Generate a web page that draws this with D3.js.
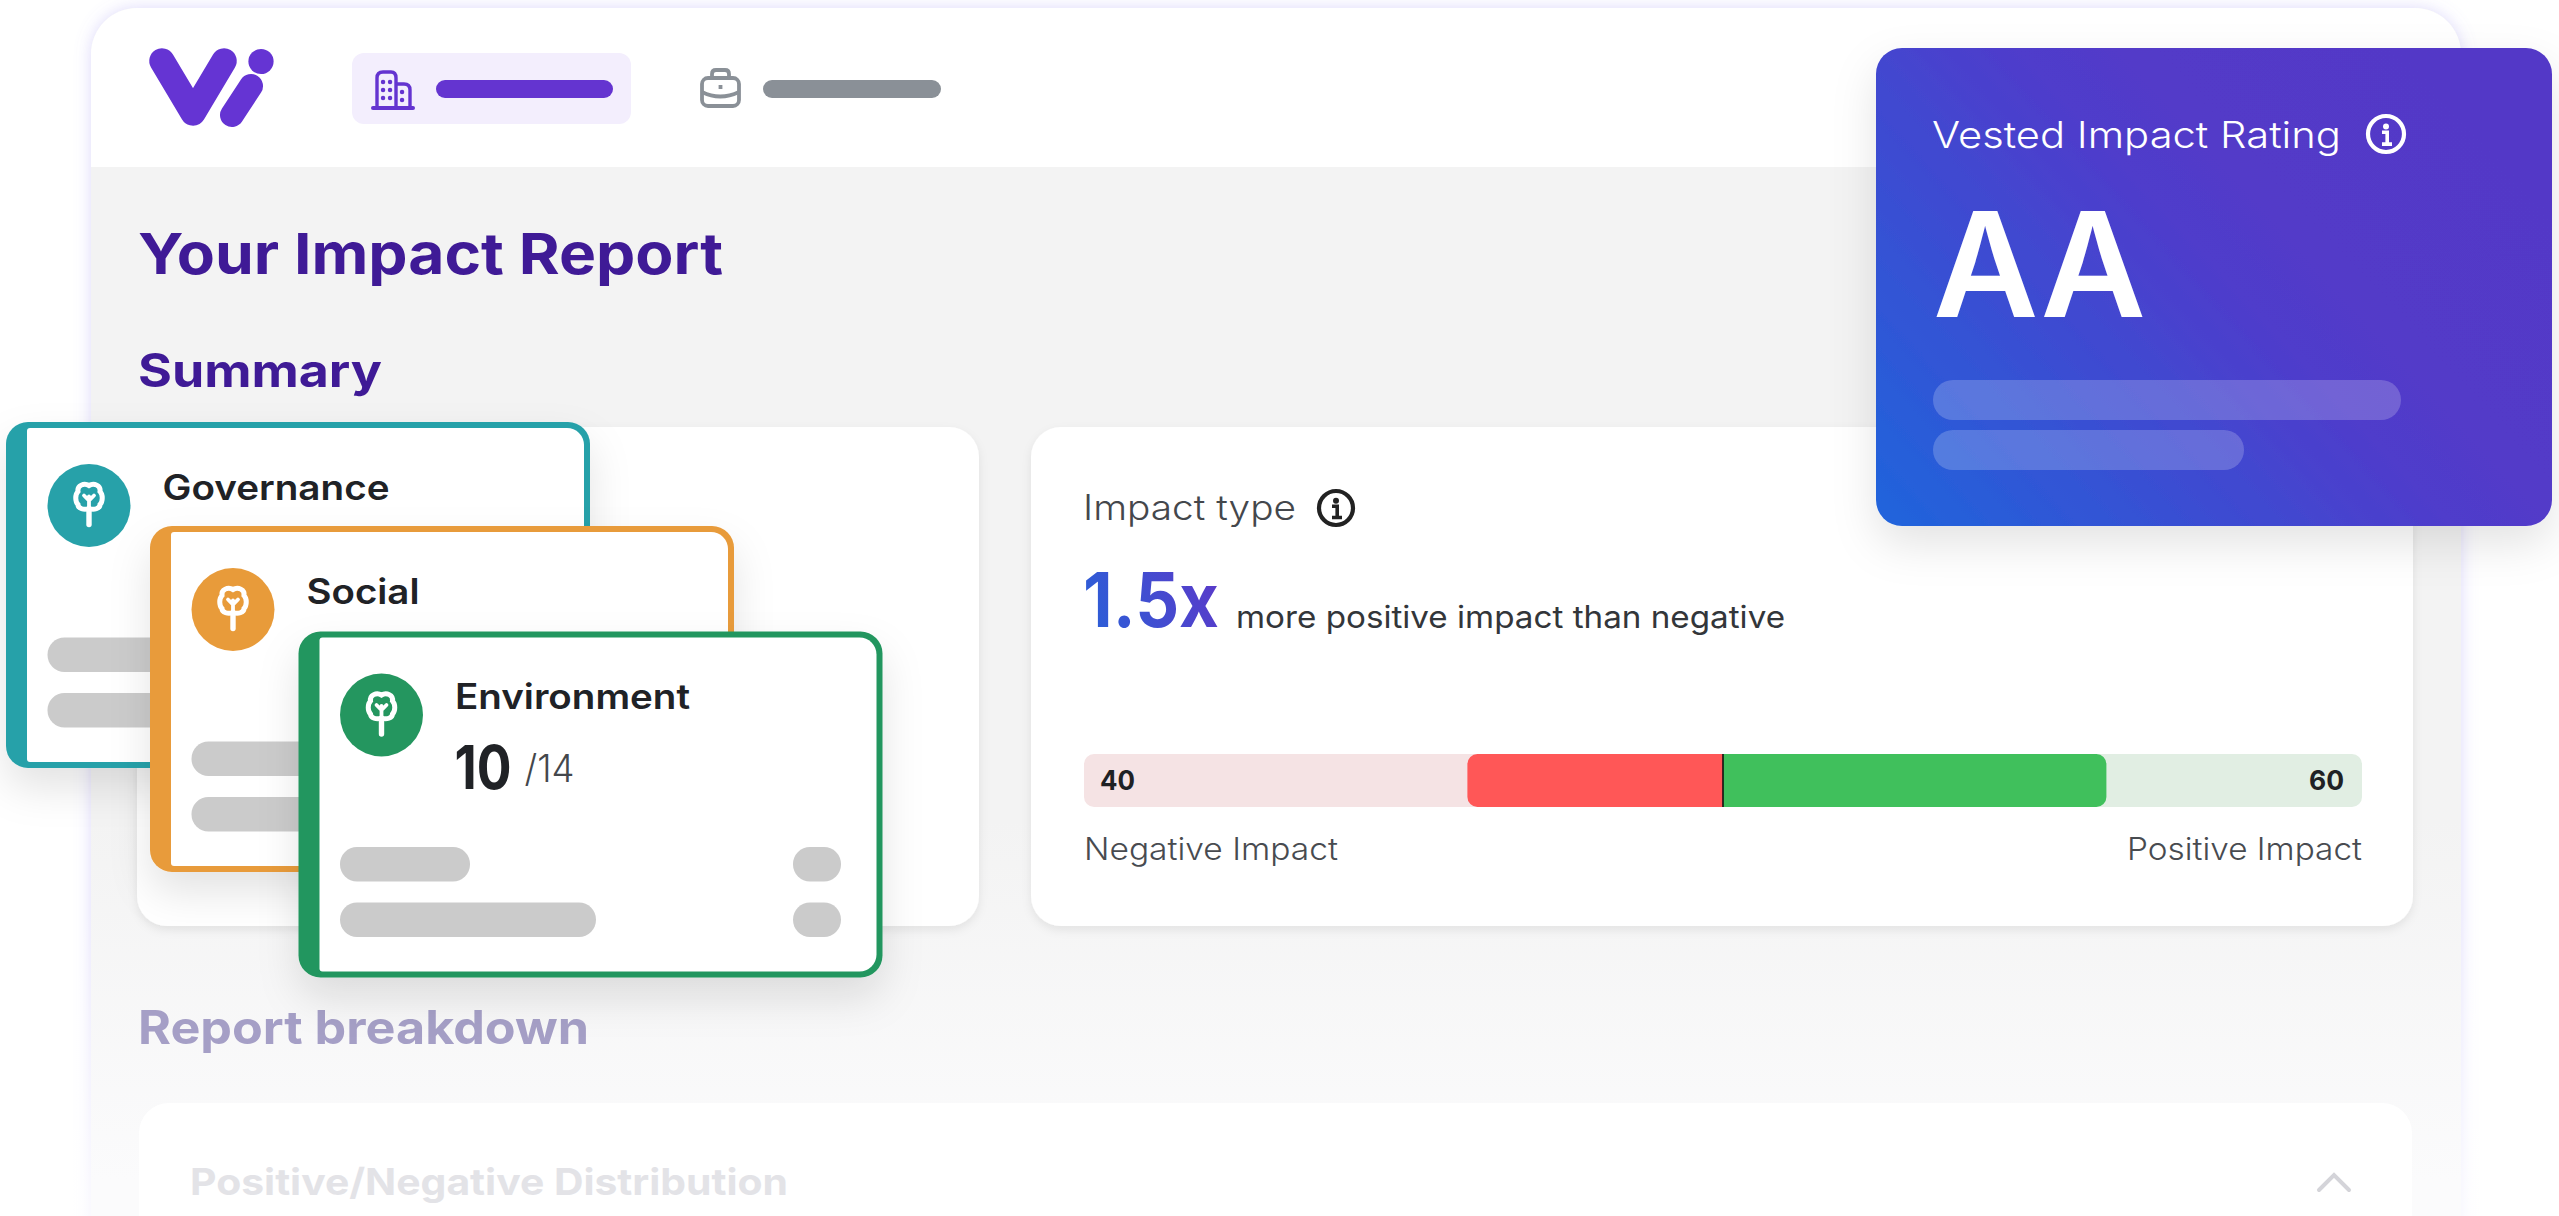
<!DOCTYPE html>
<html>
<head>
<meta charset="utf-8">
<title>Your Impact Report</title>
<script src="https://cdn.jsdelivr.net/npm/d3@7/dist/d3.min.js"></script>
<style>
html,body{margin:0;padding:0;background:#fff;overflow:hidden}
svg{display:block}
text{font-family:Inter,"Open Sans",sans-serif}
</style>
</head>
<body>
<svg id="chart" width="2559" height="1216" viewBox="0 0 2559 1216"></svg>
<script>
// ---- data ----
const cardNames   = ["Governance", "Social", "Environment"];
const cardColors  = ["#27a1a9", "#e89b3a", "#24965f"];
const cardNameWidths = [227, 113, 235];
const envScore    = "10";
const envScoreMax = "/14";
const impactSegments = ["Negative Impact", "Positive Impact"];
const impactValues   = [40, 60];
const impactMultiple = "1.5x";
const impactSentence = "more positive impact than negative";
const ratingTitle = "Vested Impact Rating";
const ratingValue = "AA";
const headings    = ["Your Impact Report", "Summary", "Report breakdown"];
const accordionTitle = "Positive/Negative Distribution";

const svg = d3.select("#chart");
const defs = svg.append("defs");

function rr(x, y, w, h, tl, tr, br, bl) {
  const p = d3.path();
  p.moveTo(x + tl, y);
  p.lineTo(x + w - tr, y);
  p.arcTo(x + w, y, x + w, y + tr, tr);
  p.lineTo(x + w, y + h - br);
  p.arcTo(x + w, y + h, x + w - br, y + h, br);
  p.lineTo(x + bl, y + h);
  p.arcTo(x, y + h, x, y + h - bl, bl);
  p.lineTo(x, y + tl);
  p.arcTo(x, y, x + tl, y, tl);
  p.closePath();
  return p.toString();
}
function shadow(id, dy, blur, color, op) {
  const f = defs.append("filter").attr("id", id)
    .attr("x", "-20%").attr("y", "-20%").attr("width", "140%").attr("height", "150%");
  f.append("feDropShadow").attr("dx", 0).attr("dy", dy).attr("stdDeviation", blur)
    .attr("flood-color", color).attr("flood-opacity", op);
}
shadow("panelShadow", 0, 8, "#8f80f0", 0.3);
shadow("softCard", 4, 5, "#000", 0.08);
shadow("floatCard", 20, 20, "#000", 0.11);
shadow("ratingShadow", 18, 22, "#000", 0.11);

function linGrad(id, x1, y1, x2, y2, stops) {
  const g = defs.append("linearGradient").attr("id", id).attr("gradientUnits", "userSpaceOnUse")
    .attr("x1", x1).attr("y1", y1).attr("x2", x2).attr("y2", y2);
  stops.forEach(s => g.append("stop").attr("offset", s[0]).attr("stop-color", s[1]));
}
linGrad("panelBg", 0, 820, 0, 1180, [[0, "#f3f3f3"], [1, "#fbfbfc"]]);
linGrad("ratingBg", 1876, 526, 2400, 48, [[0, "#1f65dc"], [0.6, "#4f3ccb"], [0.74, "#533ac8"], [1, "#5339c7"]]);
linGrad("multiple", 1084, 627, 1218, 574, [[0, "#2a60d8"], [1, "#5a3ac9"]]);

function label(g, str, x, y, size, weight, fill, width, anchor) {
  const t = g.append("text").attr("x", x).attr("y", y)
    .attr("font-size", size).attr("font-weight", weight).attr("fill", fill)
    .attr("text-anchor", anchor || "start").text(str);
  if (width) t.attr("textLength", width).attr("lengthAdjust", "spacingAndGlyphs");
  return t;
}
function pill(g, x, y, w, h, fill, op) {
  return g.append("rect").attr("x", x).attr("y", y).attr("width", w).attr("height", h)
    .attr("rx", h / 2).attr("fill", fill).attr("fill-opacity", op === undefined ? 1 : op);
}
function infoIcon(g, cx, cy, r, color) {
  const i = g.append("g").attr("transform", `translate(${cx},${cy})`);
  i.append("circle").attr("r", r).attr("fill", "none").attr("stroke", color).attr("stroke-width", 4.2);
  i.append("circle").attr("cy", -r * 0.42).attr("r", 3).attr("fill", color);
  i.append("path").attr("d", `M-4,${-r * 0.1}H1.2V${r * 0.56}M-4,${r * 0.56}H6`)
    .attr("fill", "none").attr("stroke", color).attr("stroke-width", 3.6);
}

// ---- main panel ----
const panel = svg.append("g");
panel.append("path")
  .attr("d", rr(91, 8, 2370, 1300, 46, 46, 0, 0))
  .attr("fill", "url(#panelBg)").attr("filter", "url(#panelShadow)");
panel.append("path")
  .attr("d", rr(91, 8, 2370, 159, 46, 46, 0, 0)).attr("fill", "#fff");

// logo
const logoColor = "#6534d3";
const logo = panel.append("g");
logo.append("path")
  .attr("d", "M162,61 L193,113 L224,61")
  .attr("fill", "none").attr("stroke", logoColor).attr("stroke-width", 25.5)
  .attr("stroke-linecap", "round").attr("stroke-linejoin", "round");
logo.append("path").attr("d", "M251,86 L232,115")
  .attr("stroke", logoColor).attr("stroke-width", 24).attr("stroke-linecap", "round");
logo.append("circle").attr("cx", 261).attr("cy", 61.5).attr("r", 12.6).attr("fill", logoColor);

// tabs
panel.append("rect").attr("x", 352).attr("y", 53).attr("width", 279).attr("height", 71)
  .attr("rx", 12).attr("fill", "#f3eefd");
pill(panel, 436, 80, 177, 18, "#6434d0");
pill(panel, 763, 80, 178, 18, "#8a9097");

const bld = panel.append("g").attr("fill", "none").attr("stroke", "#6434d0").attr("stroke-width", 3.4);
bld.append("path").attr("d", "M377,107 V78 Q377,72 383,72 H391 Q396,72 396,78 V107");
bld.append("path").attr("d", "M396,84 H404 Q410,84 410,90 V107");
bld.append("path").attr("d", "M373,108 H413").attr("stroke-width", 4).attr("stroke-linecap", "round");
bld.append("path")
  .attr("d", "M383,82h.1M390,82h.1M383,90h.1M390,90h.1M383,98h.1M390,98h.1M402,92h.1M402,100h.1")
  .attr("stroke-width", 4.4).attr("stroke-linecap", "round");

const brief = panel.append("g").attr("fill", "none").attr("stroke", "#8a9097").attr("stroke-width", 3.8);
brief.append("rect").attr("x", 702).attr("y", 78).attr("width", 37).attr("height", 28).attr("rx", 6);
brief.append("path").attr("d", "M712,78 V74 Q712,70 716,70 H725 Q729,70 729,74 V78");
brief.append("path").attr("d", "M702,92 Q720,101 739,92");
brief.append("path").attr("d", "M720.5,85 V89");

// headings
const headingColor = "#3f1a96";
label(panel, headings[0], 138, 274, 57, 650, headingColor, 585);
label(panel, headings[1], 138, 387, 46, 700, headingColor, 244);
label(panel, headings[2], 138, 1044, 46, 700, "#a59fc6", 451);

// summary cards
[[137, 427, 842, 499], [1031, 427, 1382, 499]].forEach(c => {
  panel.append("rect").attr("x", c[0]).attr("y", c[1]).attr("width", c[2]).attr("height", c[3])
    .attr("rx", 30).attr("fill", "#fff").attr("filter", "url(#softCard)");
});

// accordion card
panel.append("path").attr("d", rr(139, 1103, 2273, 130, 30, 30, 0, 0)).attr("fill", "#fff");
label(panel, accordionTitle, 190, 1195, 37, 700, "#e3e3e7", 598);
panel.append("path").attr("d", "M2319,1190 L2334,1175 L2349,1190")
  .attr("fill", "none").attr("stroke", "#d4d4d9").attr("stroke-width", 4).attr("stroke-linecap", "round");

// soften the panel edges as the page fades out
linGrad("edgeFade", 0, 900, 0, 1216, [[0, "#ffffff00"], [1, "#ffffffb0"]]);
panel.append("rect").attr("x", 66).attr("y", 900).attr("width", 25).attr("height", 316).attr("fill", "url(#edgeFade)");
panel.append("rect").attr("x", 2461).attr("y", 900).attr("width", 25).attr("height", 316).attr("fill", "url(#edgeFade)");

// ---- impact type card ----
const impact = svg.append("g");
label(impact, "Impact type", 1083, 520, 35, 300, "#44474c", 213);
infoIcon(impact, 1336, 508, 17, "#222");
label(impact, impactMultiple, 1083, 627, 75, 700, "url(#multiple)", 136);
label(impact, impactSentence, 1236, 628, 31, 400, "#33363a", 549);

// diverging bar, from its own scale
const xImpact = d3.scaleLinear().domain([-100, 100]).range([1084, 2362]);
const barY = 754, barH = 53, barR = 10;
const bar = impact.append("g");
const neg = impactValues[0], pos = impactValues[1];
bar.append("path").attr("fill", "#f5e3e4")
  .attr("d", rr(xImpact(-100), barY, xImpact(0) - xImpact(-100), barH, barR, 0, 0, barR));
bar.append("path").attr("fill", "#e1eee3")
  .attr("d", rr(xImpact(0), barY, xImpact(100) - xImpact(0), barH, 0, barR, barR, 0));
bar.append("path").attr("fill", "#ff5757")
  .attr("d", rr(xImpact(-neg), barY, xImpact(0) - xImpact(-neg), barH, barR, 0, 0, barR));
bar.append("path").attr("fill", "#40c05c")
  .attr("d", rr(xImpact(0), barY, xImpact(pos) - xImpact(0), barH, 0, barR, barR, 0));
bar.append("line").attr("x1", xImpact(0)).attr("x2", xImpact(0)).attr("y1", barY).attr("y2", barY + barH)
  .attr("stroke", "#111").attr("stroke-width", 1.6);
label(bar, String(neg), 1100, 790, 27, 700, "#1f2124", 35);
label(bar, String(pos), 2344, 790, 27, 700, "#1f2124", 35, "end");
label(impact, impactSegments[0], 1084, 860, 31, 300, "#484b50", 254);
label(impact, impactSegments[1], 2362, 860, 31, 300, "#484b50", 235, "end");

// ---- floating category cards ----
const cardW = 584, cardH = 346;
const xCard = d3.scaleOrdinal().domain(cardNames).range([6, 150, 298.5]);
const yCard = d3.scaleOrdinal().domain(cardNames).range([422, 526, 631.5]);

const cards = svg.selectAll("g.card").data(cardNames).join("g")
  .attr("class", "card")
  .attr("transform", d => `translate(${xCard(d)},${yCard(d)})`);

cards.append("path")
  .attr("d", rr(0, 0, cardW, cardH, 22, 22, 22, 22))
  .attr("fill", (d, i) => cardColors[i])
  .attr("filter", "url(#floatCard)");
cards.append("path")
  .attr("d", rr(21, 6, cardW - 27, cardH - 12, 3, 17, 17, 3))
  .attr("fill", "#fff");
cards.append("circle").attr("cx", 83).attr("cy", 83.5).attr("r", 41.5)
  .attr("fill", (d, i) => cardColors[i]);

// tree glyph
const tree = cards.append("g").attr("transform", "translate(83,83.5)");
tree.append("path")
  .attr("d", "M0,-20 C5,-23 12,-20 11,-14 C14,-11 14,-4 11,-1 C11,3 5,5 0,3 C-5,5 -11,3 -11,-1 C-14,-4 -14,-11 -11,-14 C-12,-20 -5,-23 0,-20 Z")
  .attr("fill", "none").attr("stroke", "#fff").attr("stroke-width", 5);
tree.append("path").attr("d", "M0,3 L0,19")
  .attr("fill", "none").attr("stroke", "#fff").attr("stroke-width", 5.4).attr("stroke-linecap", "round");
tree.append("path").attr("d", "M0,-9 L0,2 M-5,-10 L0,-5 L5,-10")
  .attr("fill", "none").attr("stroke", "#fff").attr("stroke-width", 3.8).attr("stroke-linecap", "round");

cards.append("text")
  .attr("x", 156.5).attr("y", 77.5)
  .attr("font-size", 35).attr("font-weight", 600).attr("fill", "#202226")
  .attr("textLength", (d, i) => cardNameWidths[i]).attr("lengthAdjust", "spacingAndGlyphs")
  .text(d => d);

[[41.5, 215.5, 130, 34.5], [41.5, 271, 256, 34.5], [494.5, 215.5, 48, 34.5], [494.5, 271, 48, 34.5]].forEach(b => {
  cards.append("rect").attr("x", b[0]).attr("y", b[1]).attr("width", b[2]).attr("height", b[3])
    .attr("rx", 17).attr("fill", "#cbcbcb");
});

const env = cards.filter(d => d === "Environment");
label(env, envScore, 156, 157, 60, 700, "#202226", 57);
label(env, envScoreMax, 226, 150, 38, 300, "#44474c", 50);

// ---- rating card ----
const rating = svg.append("g");
rating.append("rect").attr("x", 1876).attr("y", 48).attr("width", 676).attr("height", 478)
  .attr("rx", 26).attr("fill", "url(#ratingBg)").attr("filter", "url(#ratingShadow)");
label(rating, ratingTitle, 1932, 148, 37, 300, "#fff", 409);
infoIcon(rating, 2386, 134, 18, "#fff");
label(rating, ratingValue, 1933, 316.5, 146, 600, "#fff", 213);
pill(rating, 1933, 380, 468, 40, "#fff", 0.2);
pill(rating, 1933, 430, 311, 40, "#fff", 0.2);
</script>
</body>
</html>
